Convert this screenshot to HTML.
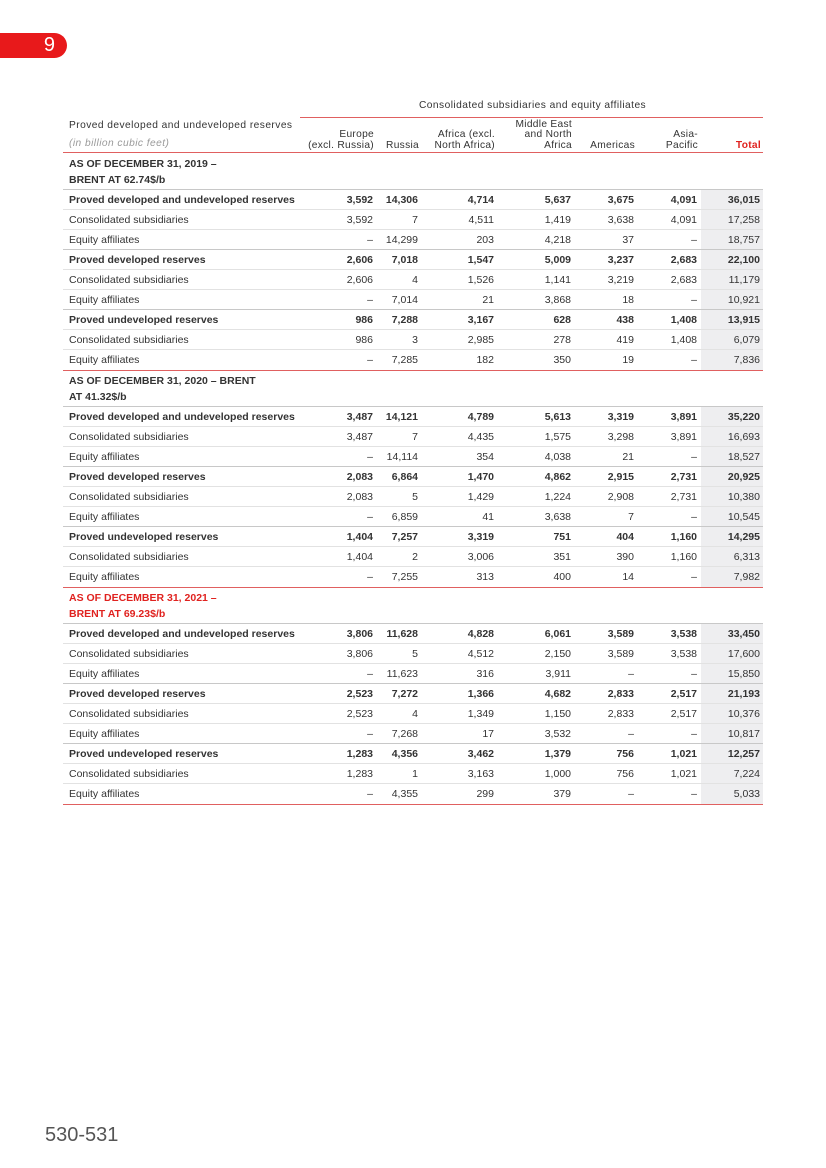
<!DOCTYPE html>
<html><head><meta charset="utf-8">
<style>
body{margin:0;width:826px;height:1168px;background:#fff;position:relative;font-family:"Liberation Sans",sans-serif;color:#333;overflow:hidden}
.abs{position:absolute}
.tab{left:0;top:33px;width:67px;height:25px;background:#e8191b;border-radius:0 13px 13px 0;color:#fff;font-size:20px;line-height:25px;text-align:right;box-sizing:border-box;padding-right:12px;font-weight:normal}
.hd{font-size:10.2px;color:#333;letter-spacing:0.45px}
.cell{position:absolute;font-size:10.5px;white-space:nowrap}
.num{text-align:right}
.row{position:absolute;left:63px;width:700px}
.shade{position:absolute;left:701px;width:62px;background:#eeeef0}
</style></head><body>
<div class="abs tab">9</div>
<div class="abs hd" style="left:419px;top:100px">Consolidated subsidiaries and equity affiliates</div>
<div class="abs" style="left:300px;top:117px;width:463px;height:1px;background:#e06060"></div>
<div class="abs hd" style="left:69px;top:120px">Proved developed and undeveloped reserves</div>
<div class="abs hd" style="left:69px;top:138px;font-style:italic;color:#999">(in billion cubic feet)</div>
<div class="abs" style="left:63px;top:152px;width:700px;height:1px;background:#e06060"></div>
<div id="root"></div>
<div class="abs" style="left:45px;top:1124px;font-size:20px;color:#555;font-weight:300">530-531</div>
<script>
const columns=["Europe<br>(excl. Russia)","Russia","Africa (excl.<br>North Africa)","Middle East<br>and North<br>Africa","Americas","Asia-<br>Pacific","Total"];
const sections=["AS OF DECEMBER 31, 2019 –<br>BRENT AT 62.74$/b","AS OF DECEMBER 31, 2020 – BRENT<br>AT 41.32$/b","AS OF DECEMBER 31, 2021 –<br>BRENT AT 69.23$/b"];
const rowLabels=["Proved developed and undeveloped reserves","Consolidated subsidiaries","Equity affiliates","Proved developed reserves","Consolidated subsidiaries","Equity affiliates","Proved undeveloped reserves","Consolidated subsidiaries","Equity affiliates"];
const values2019=[
["3,592","14,306","4,714","5,637","3,675","4,091","36,015"],
["3,592","7","4,511","1,419","3,638","4,091","17,258"],
["–","14,299","203","4,218","37","–","18,757"],
["2,606","7,018","1,547","5,009","3,237","2,683","22,100"],
["2,606","4","1,526","1,141","3,219","2,683","11,179"],
["–","7,014","21","3,868","18","–","10,921"],
["986","7,288","3,167","628","438","1,408","13,915"],
["986","3","2,985","278","419","1,408","6,079"],
["–","7,285","182","350","19","–","7,836"]];
const values2020=[
["3,487","14,121","4,789","5,613","3,319","3,891","35,220"],
["3,487","7","4,435","1,575","3,298","3,891","16,693"],
["–","14,114","354","4,038","21","–","18,527"],
["2,083","6,864","1,470","4,862","2,915","2,731","20,925"],
["2,083","5","1,429","1,224","2,908","2,731","10,380"],
["–","6,859","41","3,638","7","–","10,545"],
["1,404","7,257","3,319","751","404","1,160","14,295"],
["1,404","2","3,006","351","390","1,160","6,313"],
["–","7,255","313","400","14","–","7,982"]];
const values2021=[
["3,806","11,628","4,828","6,061","3,589","3,538","33,450"],
["3,806","5","4,512","2,150","3,589","3,538","17,600"],
["–","11,623","316","3,911","–","–","15,850"],
["2,523","7,272","1,366","4,682","2,833","2,517","21,193"],
["2,523","4","1,349","1,150","2,833","2,517","10,376"],
["–","7,268","17","3,532","–","–","10,817"],
["1,283","4,356","3,462","1,379","756","1,021","12,257"],
["1,283","1","3,163","1,000","756","1,021","7,224"],
["–","4,355","299","379","–","–","5,033"]];
const allValues=[values2019,values2020,values2021];
const colRight=[373,418,494,571,634,697,760];
const root=document.getElementById('root');
function mk(cls,style,html){const d=document.createElement('div');d.className=cls;d.style.cssText=style;if(html!==undefined)d.innerHTML=html;root.appendChild(d);return d;}
columns.forEach((c,i)=>{
  const lines=c.split('<br>').length;
  const d=mk('abs hd num','right:'+(826-colRight[i]-1)+'px;top:'+(151-lines*10.5)+'px;line-height:10.5px;letter-spacing:0.3px;'+(i==6?'color:#e0221f;font-weight:bold;':''),c);
  
  
});
let y=153;
const rowH=20.06, secH=36.5;
sections.forEach((s,si)=>{
  const h=mk('cell','left:69px;top:'+(y+3)+'px;font-weight:bold;line-height:16px;'+(si==2?'color:#e0221f;':''),s);
  
  
  y+=secH;
  const vals=allValues[si];
  const sh=mk('shade','top:'+y+'px;height:'+(rowH*9)+'px');
  
  
  rowLabels.forEach((lab,ri)=>{
    const bold=ri%3==0;
    const ln=mk('row','top:'+(y-1)+'px;height:1px;background:'+(bold?'#c8c8c8':'#e2e2e2'));
    
    
    const l=mk('cell','left:69px;top:'+(y+4)+'px;'+(bold?'font-weight:bold;':''),lab);
    
    
    vals[ri].forEach((v,ci)=>{
      const c=mk('cell num','right:'+(826-colRight[ci])+'px;top:'+(y+4)+'px;'+(bold?'font-weight:bold;':''),v);
      
      
    });
    y+=rowH;
  });
  const sep=mk('row','top:'+(y-0.5)+'px;height:1px;background:#e06060');
  
  
});
</script>
</body></html>
